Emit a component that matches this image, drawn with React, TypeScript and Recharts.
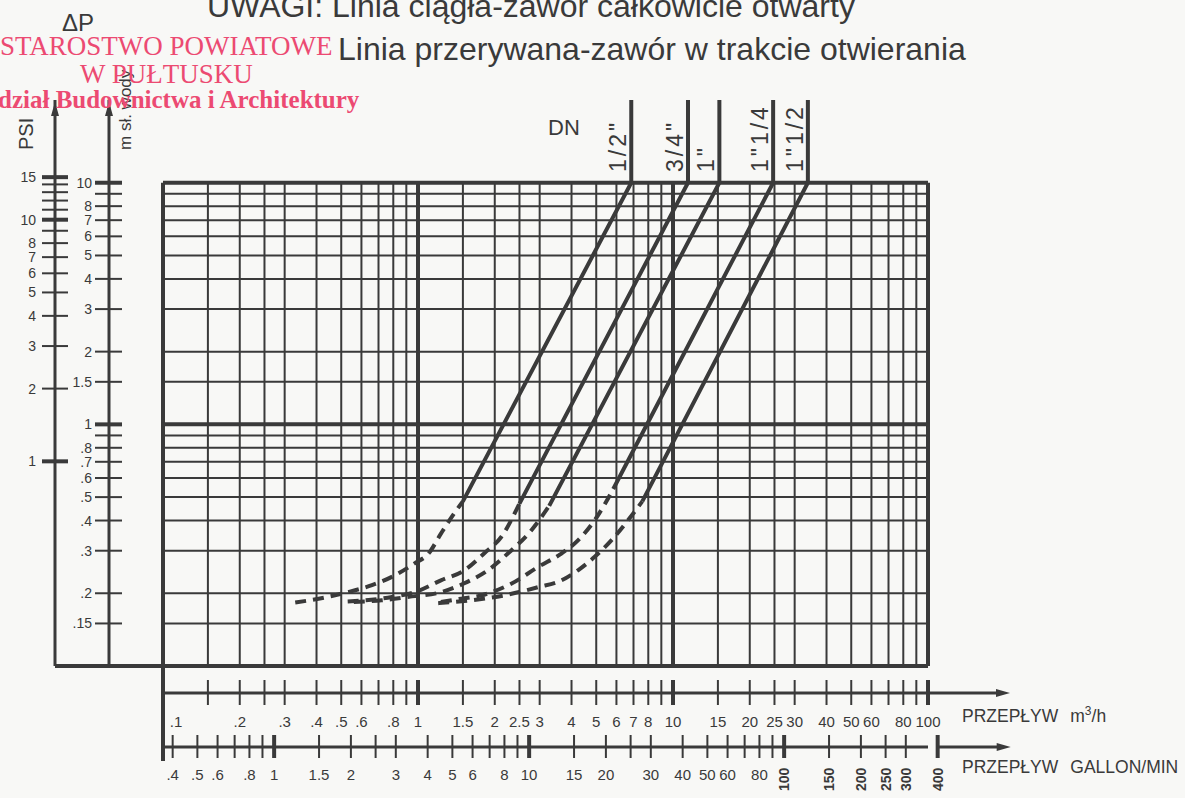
import React from 'react';
import { LineChart, Line, XAxis, YAxis, ReferenceLine } from 'recharts';

const INK = '#3a3a3a';
const STAMP = '#ec4a72';
const FONT = '"Liberation Sans", Arial, sans-serif';
const SERIF = '"Liberation Serif", "DejaVu Serif", serif';
const TICK_FS = 15;
const YTICK_FS = 14;

// unit conversions for the secondary scales
const PSI_IN_M = 0.7031; // 1 psi = 0.7031 m H2O
const GPM_IN_M3H = 0.2728; // 1 imp. gallon/min = 0.2728 m3/h

// axis extents
const FLOW_MIN = 0.1;
const FLOW_MAX = 100;
const HEAD_MIN = 0.1;
const HEAD_MAX = 22;
const PSI_MIN = HEAD_MIN / PSI_IN_M;
const PSI_MAX = HEAD_MAX / PSI_IN_M;

// flow m3/h
const flowTicks = [0.1, 0.15, 0.2, 0.25, 0.3, 0.4, 0.5, 0.6, 0.7, 0.8, 0.9, 1, 1.5, 2, 2.5, 3, 4, 5, 6, 7, 8, 9, 10, 15, 20, 25, 30, 40, 50, 60, 70, 80, 90, 100];
const flowLabels = ['.1', '', '.2', '', '.3', '.4', '.5', '.6', '', '.8', '', '1', '1.5', '2', '2.5', '3', '4', '5', '6', '7', '8', '', '10', '15', '20', '25', '30', '40', '50', '60', '', '80', '', '100'];

// flow gallon/min
const galTicks = [0.4, 0.5, 0.6, 0.7, 0.8, 0.9, 1, 1.5, 2, 2.5, 3, 4, 5, 6, 7, 8, 9, 10, 15, 20, 25, 30, 40, 50, 60, 70, 80, 90, 100, 150, 200, 250, 300, 400];
const galLabels = ['.4', '.5', '.6', '', '.8', '', '1', '1.5', '2', '', '3', '4', '5', '6', '', '8', '', '10', '15', '20', '', '30', '40', '50', '60', '', '80', '', '100', '150', '200', '250', '300', '400'];

// head, m sł. wody
const headTicks = [0.15, 0.2, 0.3, 0.4, 0.5, 0.6, 0.7, 0.8, 0.9, 1, 1.5, 2, 3, 4, 5, 6, 7, 8, 9, 10];
const headLabels = ['.15', '.2', '.3', '.4', '.5', '.6', '.7', '.8', '', '1', '1.5', '2', '3', '4', '5', '6', '7', '8', '', '10'];
const headGrid = [0.1, 0.15, 0.2, 0.3, 0.4, 0.5, 0.6, 0.7, 0.8, 0.9, 1, 1.5, 2, 3, 4, 5, 6, 7, 8, 9, 10];

// head, PSI
const psiTicks = [1, 2, 3, 4, 5, 6, 7, 8, 9, 10, 11, 12, 13, 14, 15];
const psiLabels = ['1', '2', '3', '4', '5', '6', '7', '8', '', '10', '', '', '', '', '15'];

// curves: solid = valve fully open, dashed = valve opening
const dn12Solid = [{ x: 1.5, y: 0.48 }, { x: 6.86, y: 10 }, { x: 6.86, y: HEAD_MAX }];
const dn12Dashed = [
  { x: 0.33, y: 0.183 }, { x: 0.43, y: 0.192 }, { x: 0.53, y: 0.202 }, { x: 0.66, y: 0.216 },
  { x: 0.81, y: 0.237 }, { x: 0.97, y: 0.266 }, { x: 1.1, y: 0.292 }, { x: 1.23, y: 0.353 },
  { x: 1.39, y: 0.43 }, { x: 1.5, y: 0.48 },
];
const dn34Solid = [{ x: 2.5, y: 0.47 }, { x: 11.45, y: 10 }, { x: 11.45, y: HEAD_MAX }];
const dn34Dashed = [
  { x: 0.53, y: 0.185 }, { x: 0.62, y: 0.187 }, { x: 0.79, y: 0.193 }, { x: 0.97, y: 0.202 },
  { x: 1.23, y: 0.226 }, { x: 1.52, y: 0.249 }, { x: 1.82, y: 0.293 }, { x: 2.12, y: 0.342 },
  { x: 2.5, y: 0.47 },
];
const dn1Solid = [{ x: 3.27, y: 0.46 }, { x: 15.2, y: 10 }, { x: 15.2, y: HEAD_MAX }];
const dn1Dashed = [
  { x: 0.56, y: 0.184 }, { x: 0.72, y: 0.187 }, { x: 0.91, y: 0.193 }, { x: 1.23, y: 0.202 },
  { x: 1.52, y: 0.22 }, { x: 1.88, y: 0.249 }, { x: 2.25, y: 0.292 }, { x: 2.78, y: 0.364 },
  { x: 3.27, y: 0.46 },
];
const dn114Solid = [{ x: 5.83, y: 0.54 }, { x: 24.7, y: 10 }, { x: 24.7, y: HEAD_MAX }];
const dn114Dashed = [
  { x: 1.23, y: 0.184 }, { x: 1.48, y: 0.19 }, { x: 1.77, y: 0.196 }, { x: 2.32, y: 0.219 },
  { x: 2.96, y: 0.257 }, { x: 3.65, y: 0.292 }, { x: 4.24, y: 0.331 }, { x: 4.93, y: 0.401 },
  { x: 5.83, y: 0.54 },
];
const dn112Solid = [{ x: 7.58, y: 0.48 }, { x: 33.8, y: 10 }, { x: 33.8, y: HEAD_MAX }];
const dn112Dashed = [
  { x: 1.2, y: 0.182 }, { x: 1.62, y: 0.187 }, { x: 2.18, y: 0.196 }, { x: 2.96, y: 0.212 },
  { x: 3.65, y: 0.226 }, { x: 4.24, y: 0.249 }, { x: 4.93, y: 0.283 }, { x: 5.73, y: 0.331 },
  { x: 6.66, y: 0.401 }, { x: 7.58, y: 0.48 },
];

const dnNames = ['1/2"', '3/4"', '1"', '1"1/4', '1"1/2'];

const series = [
  { name: dnNames[0], solid: dn12Solid, dashed: dn12Dashed },
  { name: dnNames[1], solid: dn34Solid, dashed: dn34Dashed },
  { name: dnNames[2], solid: dn1Solid, dashed: dn1Dashed },
  { name: dnNames[3], solid: dn114Solid, dashed: dn114Dashed },
  { name: dnNames[4], solid: dn112Solid, dashed: dn112Dashed },
];

// recharts stacks same-side axes in id order, hence the a_/b_/c_ prefixes
const X_FRAME = 'a_frame';
const X_FLOW = 'b_m3';
const X_GAL = 'c_gal';
const Y_SPACER = 'a_spacer';
const Y_HEAD = 'b_m';
const Y_PSI = 'c_psi';

const SPACER_W = 54;
const M_AXIS_W = 54;
const PSI_AXIS_W = 55;

function FrameTick({ x, y }: any) {
  return <line x1={x} x2={x} y1={y} y2={y + 95} stroke={INK} strokeWidth={4} />;
}

function FlowTick({ x, y, payload }: any) {
  const v = payload.value;
  const label = flowLabels[flowTicks.indexOf(v)] ?? '';
  const heavy = v === 1 || v === 10 || v === 100;
  return (
    <g>
      {v !== FLOW_MIN && <line x1={x} x2={x} y1={y - 13} y2={y + 12} stroke={INK} strokeWidth={heavy ? 4 : 2} />}
      <text x={v === FLOW_MIN ? x + 13 : x} y={y + 34} textAnchor="middle" fontSize={TICK_FS} fill={INK} fontFamily={FONT}>{label}</text>
      {v === FLOW_MAX && (
        <g>
          <line x1={x} x2={x + 72} y1={y} y2={y} stroke={INK} strokeWidth={3} />
          <polygon points={`${x + 82},${y} ${x + 68},${y - 4} ${x + 68},${y + 4}`} fill={INK} />
        </g>
      )}
    </g>
  );
}

function GalTick({ x, y, payload }: any) {
  const v = payload.value;
  const label = galLabels[galTicks.indexOf(v)] ?? '';
  const heavy = v === 1 || v === 10 || v === 100 || v === 400;
  return (
    <g>
      <line x1={x} x2={x} y1={y - 12} y2={y + 11} stroke={INK} strokeWidth={heavy ? 4 : 2} />
      {v >= 100 ? (
        <text x={x + 5} y={y + 44} transform={`rotate(-90 ${x + 5} ${y + 44})`} fontSize={14} fill={INK} fontFamily={FONT} fontWeight="bold">{label}</text>
      ) : (
        <text x={x} y={y + 33} textAnchor="middle" fontSize={TICK_FS} fill={INK} fontFamily={FONT}>{label}</text>
      )}
      {v === 400 && (
        <g>
          <line x1={x} x2={x + 63} y1={y} y2={y} stroke={INK} strokeWidth={3} />
          <polygon points={`${x + 73},${y} ${x + 59},${y - 4} ${x + 59},${y + 4}`} fill={INK} />
        </g>
      )}
    </g>
  );
}

function HeadTick({ x, y, payload }: any) {
  const v = payload.value;
  if (v === HEAD_MAX) return <polygon points={`${x},${y + 2} ${x - 4},${y + 16} ${x + 4},${y + 16}`} fill={INK} />;
  const label = headLabels[headTicks.indexOf(v)] ?? '';
  const heavy = v === 1 || v === 10;
  return (
    <g>
      <line x1={x - 14} x2={x + 13} y1={y} y2={y} stroke={INK} strokeWidth={heavy ? 4 : 2} />
      <text x={x - 17} y={y + 5} textAnchor="end" fontSize={YTICK_FS} fill={INK} fontFamily={FONT}>{label}</text>
    </g>
  );
}

function PsiTick({ x, y, payload }: any) {
  const v = payload.value;
  if (v === PSI_MAX) return <polygon points={`${x},${y + 2} ${x - 4},${y + 16} ${x + 4},${y + 16}`} fill={INK} />;
  if (v === PSI_MIN) return <line x1={x} x2={x + M_AXIS_W + SPACER_W} y1={y} y2={y} stroke={INK} strokeWidth={4} />;
  const label = psiLabels[psiTicks.indexOf(v)] ?? '';
  const heavy = v === 1 || v === 10 || v === 15;
  return (
    <g>
      <line x1={x - 13} x2={x + 13} y1={y} y2={y} stroke={INK} strokeWidth={heavy ? 4 : 2} />
      <text x={x - 19} y={y + 5} textAnchor="end" fontSize={YTICK_FS} fill={INK} fontFamily={FONT}>{label}</text>
    </g>
  );
}

export default function App() {
  const heavyFlow = [0.1, 1, 10, 100];
  const heavyHead = [0.1, 1, 10];
  return (
    <div style={{ position: 'absolute', left: 0, top: 0, width: 1185, height: 798, background: '#f8f8f6', overflow: 'hidden' }}>
      <LineChart width={1185} height={798} margin={{ top: 100, right: 257, bottom: 1, left: 0 }}>
        <XAxis xAxisId={X_FRAME} dataKey="x" type="number" scale="log" domain={[FLOW_MIN, FLOW_MAX]} allowDataOverflow
          height={27} axisLine={false} tickLine={false} ticks={[FLOW_MIN]} interval={0} tick={<FrameTick />} tickSize={0} tickMargin={0} />
        <XAxis xAxisId={X_FLOW} dataKey="x" type="number" scale="log" domain={[FLOW_MIN, FLOW_MAX]} allowDataOverflow
          height={54} axisLine={{ stroke: INK, strokeWidth: 3 }} tickLine={false} ticks={flowTicks} interval={0}
          tick={<FlowTick />} tickSize={0} tickMargin={0} />
        <XAxis xAxisId={X_GAL} dataKey="x" type="number" scale="log" domain={[FLOW_MIN / GPM_IN_M3H, FLOW_MAX / GPM_IN_M3H]} allowDataOverflow
          height={50} axisLine={{ stroke: INK, strokeWidth: 3 }} tickLine={false} ticks={galTicks} interval={0}
          tick={<GalTick />} tickSize={0} tickMargin={0} />
        <YAxis yAxisId={Y_SPACER} type="number" domain={[0, 1]} width={SPACER_W} axisLine={false} tickLine={false} tick={false} />
        <YAxis yAxisId={Y_HEAD} type="number" scale="log" domain={[HEAD_MIN, HEAD_MAX]} allowDataOverflow width={M_AXIS_W}
          axisLine={{ stroke: INK, strokeWidth: 3 }} tickLine={false} ticks={[...headTicks, HEAD_MAX]} interval={0}
          tick={<HeadTick />} tickSize={0} tickMargin={0} />
        <YAxis yAxisId={Y_PSI} type="number" scale="log" domain={[PSI_MIN, PSI_MAX]} allowDataOverflow width={PSI_AXIS_W}
          axisLine={{ stroke: INK, strokeWidth: 3 }} tickLine={false} ticks={[PSI_MIN, ...psiTicks, PSI_MAX]} interval={0}
          tick={<PsiTick />} tickSize={0} tickMargin={0} />

        {flowTicks.map((v) => (
          <ReferenceLine key={'gx' + v} xAxisId={X_FLOW} yAxisId={Y_HEAD} segment={[{ x: v, y: HEAD_MIN }, { x: v, y: 10 }]}
            stroke={INK} strokeWidth={heavyFlow.includes(v) ? 4 : 2} />
        ))}
        {headGrid.map((v) => (
          <ReferenceLine key={'gy' + v} xAxisId={X_FLOW} yAxisId={Y_HEAD} segment={[{ x: FLOW_MIN, y: v }, { x: FLOW_MAX, y: v }]}
            stroke={INK} strokeWidth={heavyHead.includes(v) ? 4 : 2} />
        ))}

        {series.map((s) => (
          <Line key={'d' + s.name} xAxisId={X_FLOW} yAxisId={Y_HEAD} data={s.dashed} dataKey="y" type="monotone"
            stroke={INK} strokeWidth={4} strokeDasharray="11 7" dot={false} activeDot={false} isAnimationActive={false} />
        ))}
        {series.map((s) => (
          <Line key={'s' + s.name} xAxisId={X_FLOW} yAxisId={Y_HEAD} data={s.solid} dataKey="y" type="linear"
            stroke={INK} strokeWidth={4} dot={false} activeDot={false} isAnimationActive={false}
            label={(p: any) => p.index === s.solid.length - 1 ? (
              <text key={'l' + s.name} x={p.x - 5} y={p.y + 72} transform={`rotate(-90 ${p.x - 5} ${p.y + 72})`}
                fontSize={23} letterSpacing={3} fill={INK} fontFamily={FONT}>{s.name}</text>
            ) : null} />
        ))}
      </LineChart>

      <svg width={1185} height={798} style={{ position: 'absolute', left: 0, top: 0, pointerEvents: 'none' }}>
        <g fontFamily={FONT} fill={INK}>
          <text x={207} y={17} fontSize={32}>UWAGI: Linia ciągła-zawór całkowicie otwarty</text>
          <text x={338} y={60} fontSize={32}>Linia przerywana-zawór w trakcie otwierania</text>
          <text x={62} y={31} fontSize={24}>ΔP</text>
          <text x={33} y={150} fontSize={20} transform="rotate(-90 33 150)">PSI</text>
          <text x={131} y={150} fontSize={17} transform="rotate(-90 131 150)">m sł. wody</text>
          <text x={548} y={135} fontSize={22}>DN</text>
          <text x={962} y={722} fontSize={17.5}>PRZEPŁYW<tspan dx={12}>m</tspan><tspan dy={-7} fontSize={12}>3</tspan><tspan dy={7}>/h</tspan></text>
          <text x={962} y={773} fontSize={17.5}>PRZEPŁYW<tspan dx={12}>GALLON/MIN</tspan></text>
        </g>
        <g fontFamily={SERIF} fill={STAMP}>
          <text x={0} y={55} fontSize={27}>STAROSTWO POWIATOWE</text>
          <text x={80} y={83} fontSize={27}>W PUŁTUSKU</text>
          <text x={-2} y={108} fontSize={25} fontWeight="bold">dział Budownictwa i Architektury</text>
        </g>
      </svg>
    </div>
  );
}
